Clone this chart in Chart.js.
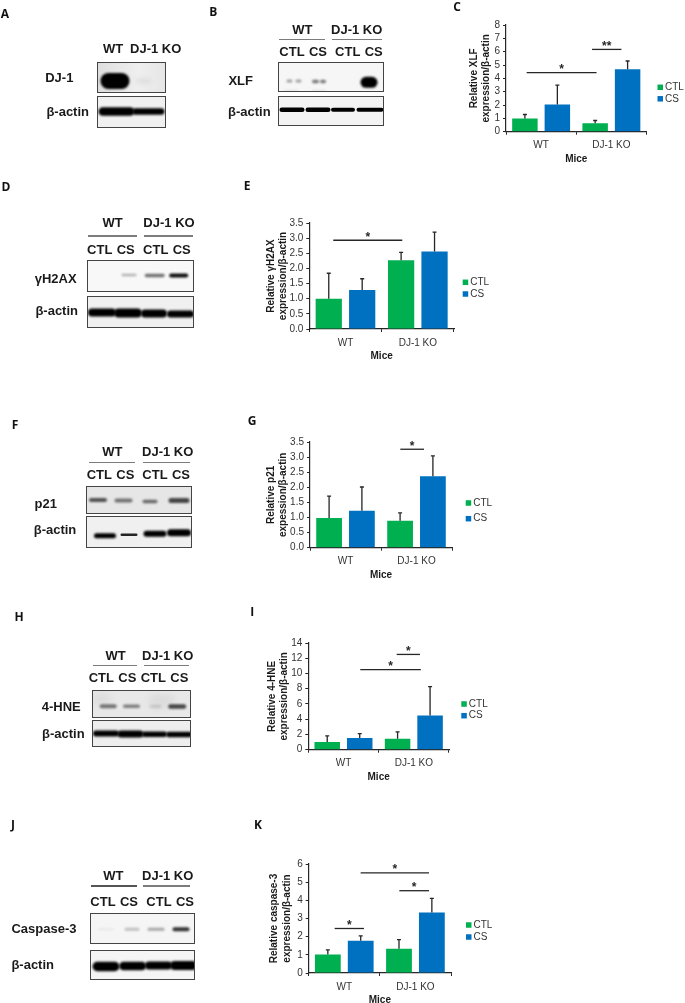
<!DOCTYPE html>
<html>
<head>
<meta charset="utf-8">
<title>DJ-1 KO blots and quantification</title>
<script src="https://cdn.jsdelivr.net/npm/chart.js@4/dist/chart.umd.min.js"></script>
<style>
  html, body { margin: 0; padding: 0; background: #fff; }
  #page { position: relative; width: 685px; height: 1003px; overflow: hidden; filter: blur(0.35px); }
  #page canvas { position: absolute; }
  .t { position: absolute; transform: translate(-50%, -50%); white-space: nowrap; color: #1a1a1a;
       font: bold 13px "Liberation Sans", Arial, sans-serif; }
  .letter { font: bold 12px "Open Sans", sans-serif; color: #111; }
  .rule { position: absolute; height: 1.4px; background: #7c7c7c; }
  .panel { position: absolute; box-sizing: border-box; border: 1px solid #444; overflow: hidden; }
  .panel canvas { left: 0; top: 0; }
</style>
</head>
<body>
<div id="page"></div>
<script>
// data
const groups = ['WT', 'DJ-1 KO'];
const treatments = ['CTL', 'CS'];

const xlfCtl = [0.99, 0.63];
const xlfCs = [2.04, 4.68];
const xlfCtlTop = [1.29, 0.84];
const xlfCsTop = [3.49, 5.30];
const xlfTicks = [0, 1, 2, 3, 4, 5, 6, 7, 8];
const xlfSig = [[-0.206, 0.789, 4.43, '*'], [0.725, 1.143, 6.17, '**']];

const h2axCtl = [1.0, 2.27];
const h2axCs = [1.29, 2.56];
const h2axCtlTop = [1.84, 2.53];
const h2axCsTop = [1.66, 3.20];
const h2axTicks = [0, 0.5, 1, 1.5, 2, 2.5, 3, 3.5];
const h2axSig = [[-0.169, 0.785, 2.93, '*']];

const p21Ctl = [0.98, 0.89];
const p21Cs = [1.22, 2.37];
const p21CtlTop = [1.71, 1.15];
const p21CsTop = [2.01, 3.04];
const p21Ticks = [0, 0.5, 1, 1.5, 2, 2.5, 3, 3.5];
const p21Sig = [[0.772, 1.106, 3.26, '*']];

const hneCtl = [1.0, 1.43];
const hneCs = [1.52, 4.5];
const hneCtlTop = [1.82, 2.34];
const hneCsTop = [2.12, 8.28];
const hneTicks = [0, 2, 4, 6, 8, 10, 12, 14];
const hneSig = [[0.239, 1.10, 10.5, '*'], [0.756, 1.087, 12.5, '*']];

const casCtl = [1.02, 1.33];
const casCs = [1.78, 3.33];
const casCtlTop = [1.27, 1.84];
const casCsTop = [2.04, 4.11];
const casTicks = [0, 1, 2, 3, 4, 5, 6];
const casSig = [[-0.135, 0.277, 2.45, '*'], [0.774, 1.191, 4.53, '*'], [0.23, 1.191, 5.51, '*']];

const page = document.getElementById('page');
const GREEN = '#00B050';
const BLUE = '#0070C0';
const INK = '#262626';
const SANS = '"Liberation Sans", Arial, sans-serif';

function text(str, x, y, cls) {
    const el = document.createElement('div');
    el.className = 't' + (cls ? ' ' + cls : '');
    el.style.left = x + 'px';
    el.style.top = y + 'px';
    el.textContent = str;
    page.appendChild(el);
}

function rule(x0, x1, y, color) {
    const el = document.createElement('div');
    el.className = 'rule';
    el.style.left = x0 + 'px';
    el.style.width = (x1 - x0) + 'px';
    el.style.top = y + 'px';
    if (color) el.style.background = color;
    page.appendChild(el);
}

const errorBars = {
    id: 'errorBars',
    afterDatasetsDraw(chart) {
        const ctx = chart.ctx;
        const y = chart.scales.y;
        ctx.save();
        ctx.strokeStyle = INK;
        ctx.lineWidth = 1.3;
        chart.data.datasets.forEach((ds, i) => {
            chart.getDatasetMeta(i).data.forEach((bar, j) => {
                const yTop = y.getPixelForValue(ds.tops[j]);
                ctx.beginPath();
                ctx.moveTo(bar.x, bar.y);
                ctx.lineTo(bar.x, yTop);
                ctx.moveTo(bar.x - 2, yTop);
                ctx.lineTo(bar.x + 2, yTop);
                ctx.stroke();
            });
        });
        ctx.restore();
    }
};

// significance lines with stars, x in category units and y in axis units
const sigLines = {
    id: 'sigLines',
    afterDraw(chart, args, opts) {
        const ctx = chart.ctx;
        const { x, y } = chart.scales;
        ctx.save();
        ctx.strokeStyle = INK;
        ctx.fillStyle = INK;
        ctx.lineWidth = 1.3;
        ctx.textAlign = 'center';
        ctx.font = 'bold 12px ' + SANS;
        (opts.lines || []).forEach(([a, b, v, star]) => {
            const x0 = x.getPixelForValue(a);
            const x1 = x.getPixelForValue(b);
            const py = y.getPixelForValue(v);
            ctx.beginPath();
            ctx.moveTo(x0, py);
            ctx.lineTo(x1, py);
            ctx.stroke();
            ctx.fillText(star, (x0 + x1) / 2, py + 0.5);
        });
        ctx.restore();
    }
};

// small legend: swatches sit closer to the text than the built-in one allows
const sideLegend = {
    id: 'sideLegend',
    afterDraw(chart, args, opts) {
        const ctx = chart.ctx;
        ctx.save();
        ctx.font = '10px ' + SANS;
        ctx.textBaseline = 'middle';
        chart.data.datasets.forEach((ds, i) => {
            const py = opts.y + i * opts.gap;
            ctx.fillStyle = ds.backgroundColor;
            ctx.fillRect(opts.x, py - 2.75, 5.5, 5.5);
            ctx.fillStyle = '#333';
            ctx.fillText(ds.label, opts.x + 7.5, py);
        });
        ctx.restore();
    }
};

function barChart(c) {
    const canvas = document.createElement('canvas');
    const lh = 12.6;
    const left = Math.floor(c.titleX - lh / 2);
    const top = Math.floor(c.plotTop - 8);
    const height = Math.ceil(c.plotBottom + 34 - top);
    const width = 685 - left;
    canvas.width = width;
    canvas.height = height;
    canvas.style.left = left + 'px';
    canvas.style.top = top + 'px';
    page.appendChild(canvas);
    const axisH = top + height - c.plotBottom;

    new Chart(canvas, {
        type: 'bar',
        data: {
            labels: groups,
            datasets: [
                { label: treatments[0], data: c.ctl, tops: c.ctlTop, backgroundColor: GREEN },
                { label: treatments[1], data: c.cs, tops: c.csTop, backgroundColor: BLUE }
            ]
        },
        options: {
            responsive: false,
            animation: false,
            devicePixelRatio: 1,
            categoryPercentage: 0.924,
            barPercentage: 0.785,
            layout: {
                autoPadding: false,
                padding: { left: 0, top: c.plotTop - top, bottom: 0, right: 685 - c.plotRight }
            },
            scales: {
                x: {
                    ticks: { color: '#333', font: { family: SANS, size: 10 }, padding: 5, maxRotation: 0, autoSkip: false },
                    grid: { offset: true, drawOnChartArea: false, tickLength: 3, color: INK },
                    border: { color: INK, width: 1.2 },
                    title: { display: true, text: 'Mice', color: '#1a1a1a', padding: 0,
                             font: { family: SANS, size: 10, weight: 'bold', lineHeight: 1.26 } },
                    afterFit(scale) { scale.height = axisH; }
                },
                y: {
                    min: c.ticks[0],
                    max: c.ticks[c.ticks.length - 1],
                    afterBuildTicks(scale) { scale.ticks = c.ticks.map(v => ({ value: v })); },
                    ticks: {
                        color: '#333',
                        font: { family: SANS, size: 10 },
                        padding: 3,
                        autoSkip: false,
                        callback: v => c.decimals ? v.toFixed(c.decimals) : String(v)
                    },
                    grid: { drawOnChartArea: false, tickLength: 3, color: INK },
                    border: { color: INK, width: 1.2 },
                    title: { display: true, text: c.title, color: '#1a1a1a',
                             padding: { top: c.titleX - lh / 2 - left, bottom: 0 },
                             font: { family: SANS, size: 10, weight: 'bold', lineHeight: 1.26 } },
                    afterFit(scale) { scale.width = c.plotLeft - left; }
                }
            },
            plugins: {
                legend: { display: false },
                tooltip: { enabled: false },
                sigLines: { lines: c.sig },
                sideLegend: { x: c.legendX - left, y: c.legendY - top, gap: c.legendGap }
            }
        },
        plugins: [errorBars, sigLines, sideLegend]
    });
}

barChart({ ctl: xlfCtl, cs: xlfCs, ctlTop: xlfCtlTop, csTop: xlfCsTop, ticks: xlfTicks, sig: xlfSig,
    title: ['Relative XLF', 'expression/β-actin'],
    titleX: 474, plotLeft: 506, plotRight: 646.5, plotTop: 24, plotBottom: 131.7,
    legendX: 657.5, legendY: 87.3, legendGap: 11.5 });
barChart({ ctl: h2axCtl, cs: h2axCs, ctlTop: h2axCtlTop, csTop: h2axCsTop, ticks: h2axTicks, sig: h2axSig, decimals: 1,
    title: ['Relative γH2AX', 'expression/β-actin'],
    titleX: 271, plotLeft: 309.3, plotRight: 454, plotTop: 222.3, plotBottom: 329,
    legendX: 462.7, legendY: 282.3, legendGap: 11.7 });
barChart({ ctl: p21Ctl, cs: p21Cs, ctlTop: p21CtlTop, csTop: p21CsTop, ticks: p21Ticks, sig: p21Sig, decimals: 1,
    title: ['Relative p21', 'expession/β-actin'],
    titleX: 271, plotLeft: 310, plotRight: 452, plotTop: 441, plotBottom: 547.7,
    legendX: 465.7, legendY: 503, legendGap: 15.7 });
barChart({ ctl: hneCtl, cs: hneCs, ctlTop: hneCtlTop, csTop: hneCsTop, ticks: hneTicks, sig: hneSig,
    title: ['Relative 4-HNE', 'expression/β-actin'],
    titleX: 272, plotLeft: 308.3, plotRight: 449, plotTop: 642, plotBottom: 749.7,
    legendX: 461.3, legendY: 704, legendGap: 11.7 });
barChart({ ctl: casCtl, cs: casCs, ctlTop: casCtlTop, csTop: casCsTop, ticks: casTicks, sig: casSig,
    title: ['Relative caspase-3', 'expression/β-actin'],
    titleX: 274.7, plotLeft: 308.7, plotRight: 451, plotTop: 863, plotBottom: 973,
    legendX: 466, legendY: 925, legendGap: 12 });

// blot bands: soft rounded bars placed in panel units through the chart's own scales
const softBands = {
    id: 'softBands',
    afterDatasetsDraw(chart) {
        const ctx = chart.ctx;
        const { x, y } = chart.scales;
        ctx.save();
        chart.data.datasets[0].data.forEach(b => {
            ctx.filter = 'blur(' + (b.soft || 1) + 'px)';
            ctx.fillStyle = 'rgba(0,0,0,' + b.dark + ')';
            ctx.beginPath();
            ctx.roundRect(x.getPixelForValue(b.x) - b.w / 2, y.getPixelForValue(b.y) - b.h / 2, b.w, b.h, Math.min(b.w, b.h) / 2);
            ctx.fill();
        });
        ctx.restore();
    }
};

function blot(x0, x1, y0, y1, bg, bands) {
    const box = document.createElement('div');
    box.className = 'panel';
    box.style.left = x0 + 'px';
    box.style.top = y0 + 'px';
    box.style.width = (x1 - x0) + 'px';
    box.style.height = (y1 - y0) + 'px';
    box.style.background = bg;
    const canvas = document.createElement('canvas');
    canvas.width = Math.ceil(x1 - x0);
    canvas.height = Math.ceil(y1 - y0);
    box.appendChild(canvas);
    page.appendChild(box);
    new Chart(canvas, {
        type: 'scatter',
        data: { datasets: [{ data: bands.map(b => ({ x: b[0] - x0, y: b[1] - y0, w: b[2], h: b[3], dark: b[4], soft: b[5] })), pointRadius: 0 }] },
        options: {
            responsive: false,
            animation: false,
            devicePixelRatio: 1,
            layout: { autoPadding: false },
            scales: {
                x: { display: false, min: 0, max: canvas.width },
                y: { display: false, min: 0, max: canvas.height, reverse: true }
            },
            plugins: { legend: { display: false }, tooltip: { enabled: false } }
        },
        plugins: [softBands]
    });
}

// A
blot(96.5, 166, 62, 93, 'linear-gradient(90deg,#dedede,#efefef 60%,#e6e6e6)', [[113.5, 80, 29, 16, 1, 1], [142, 80, 16, 6, 0.05, 2]]);
blot(96.5, 166, 96, 128, '#f0f0f0', [[115, 110.5, 36, 8.5, 1, 1], [147, 110.5, 32, 6.5, 1, 1]]);
// B
blot(278, 383.5, 62, 92, '#f6f6f6', [[288.5, 80, 6, 3.2, 0.35, 1.2], [297.5, 80, 6, 3.2, 0.35, 1.2], [314.5, 80.5, 7, 3.5, 0.5, 1.2], [322, 80.5, 6, 3.5, 0.5, 1.2], [368, 81.3, 17, 11, 1, 1], [290, 90, 14, 1.5, 0.12, 1], [318, 90, 14, 1.5, 0.12, 1]]);
blot(278, 383.5, 95.5, 125.5, '#f3f3f3', [[291, 108.3, 25, 4.5, 1, 0.7], [317, 108.3, 25, 4.5, 1, 0.7], [342, 108.3, 24, 4, 1, 0.7], [369, 108.3, 27, 4, 1, 0.7]]);
// D
blot(87, 194, 260, 291.5, '#f8f8f8', [[128, 274, 15, 2.5, 0.28, 1], [153.7, 274.6, 20, 3.5, 0.55, 1], [177.7, 274.4, 19, 4, 0.95, 0.8]]);
blot(87, 194, 296, 327.5, '#f0f0f0', [[101, 311.5, 28, 8, 1, 1], [127, 312, 28, 9, 1, 1], [153, 312.5, 26, 8, 1, 1], [179.5, 313, 27, 7, 1, 1]]);
// F
blot(86, 192, 486, 514, '#e6e6e6', [[97, 499, 18, 4, 0.65, 1.2], [122.5, 499.5, 18, 4, 0.5, 1.2], [149, 500.5, 15, 3.5, 0.55, 1.2], [178, 499.5, 21, 5, 0.7, 1.2]]);
blot(86, 192, 516, 548, '#f0f0f0', [[104, 534.7, 22, 5, 1, 0.8], [128, 533.7, 17, 2.5, 0.85, 0.6], [154, 532.7, 23, 6, 1, 0.8], [178, 531.7, 24, 7, 1, 0.8]]);
// H
blot(91.5, 191, 690, 718, '#e8e8e8', [[106.7, 705.3, 17, 4, 0.5, 1.2], [130, 705.3, 17, 3.5, 0.45, 1.2], [154, 705.5, 12, 3, 0.15, 1.5], [175.7, 705.5, 18, 4.5, 0.7, 1.2], [100, 698, 20, 10, 0.05, 4], [160, 700, 25, 12, 0.06, 4]]);
blot(91.5, 191, 720, 746.5, '#eeeeee', [[104.5, 732.5, 26, 6, 1, 1], [129, 733, 26, 7, 1, 1], [153, 733.3, 25, 5.5, 1, 1], [177.7, 733.5, 26, 5.5, 1, 1]]);
// J
blot(90, 195, 913, 943.5, '#f5f5f5', [[105, 928.3, 16, 2, 0.06, 1.2], [131, 928.3, 15, 3, 0.22, 1.2], [155, 928.3, 17, 3, 0.32, 1.2], [180, 928.3, 17, 4, 0.8, 1]]);
blot(90, 195, 949.5, 980, '#f5f5f5', [[105, 965, 27, 9.5, 1, 1], [131.7, 964.5, 27, 8.5, 1, 1], [157.5, 964, 27, 8, 1, 1], [182.5, 964, 27, 9, 1, 1]]);

// blot labels
function laneHeads(wtX, koX, headY, lineY, ruleA, ruleB, capY, lanes, wtColor) {
    text('WT', wtX, headY);
    text('DJ-1 KO', koX, headY);
    rule(ruleA[0], ruleA[1], lineY, wtColor);
    rule(ruleB[0], ruleB[1], lineY);
    lanes.forEach((x, i) => text(treatments[i % 2], x, capY));
}

text('WT', 113, 48);
text('DJ-1 KO', 155.7, 48);
text('DJ-1', 59.3, 77.3);
text('β-actin', 67.7, 110.7);

laneHeads(302.3, 356.7, 29, 39, [279.3, 325.3], [332.3, 382.3], 51, [292, 318, 347.7, 373.7]);
text('XLF', 240.7, 80.3);
text('β-actin', 249.3, 110.7);

laneHeads(112.7, 169, 222.3, 235.3, [88, 136.7], [144, 192.7], 249, [99.7, 125.7, 155.7, 181.7]);
text('γH2AX', 55.7, 278);
text('β-actin', 56.7, 310);

laneHeads(112.3, 167.7, 450.7, 461.5, [88.7, 135], [143.3, 190], 474, [99.3, 125.3, 155, 181]);
text('p21', 45.7, 503);
text('β-actin', 55, 529.3);

laneHeads(115.7, 167.7, 654.7, 665, [92.7, 137.3], [144, 189], 676.7, [101.3, 127.3, 153.3, 179.3]);
text('4-HNE', 61.3, 706.3);
text('β-actin', 63.3, 733);

laneHeads(113.3, 167.7, 874.5, 885.3, [90.7, 137.3], [143.3, 190], 900.7, [103, 129, 159, 185], '#555');
text('Caspase-3', 44, 928.3);
text('β-actin', 32.7, 964);

// panel letters
[['A', 5, 13], ['B', 213.3, 11], ['C', 457, 6], ['D', 6, 186], ['E', 247, 185], ['F', 15, 424], ['G', 252, 420],
 ['H', 19, 615.7], ['I', 252.3, 611], ['J', 13, 824], ['K', 258, 824]].forEach(([s, x, y]) => text(s, x, y, 'letter'));
</script>
</body>
</html>
